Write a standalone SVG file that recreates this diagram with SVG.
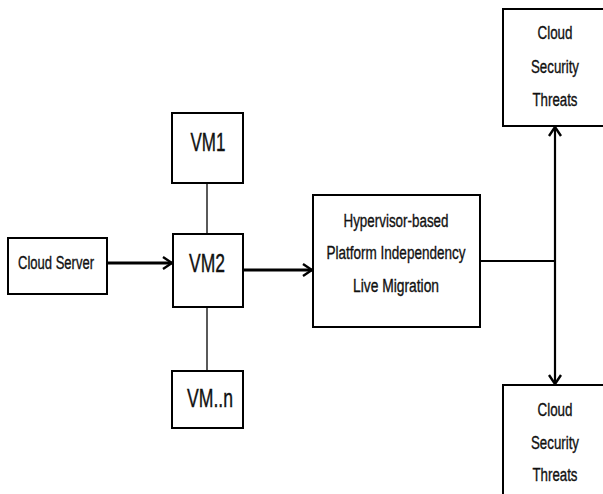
<svg xmlns="http://www.w3.org/2000/svg" width="603" height="494" viewBox="0 0 603 494">
  <style>
    .box { fill: #fff; stroke: #000; stroke-width: 2; }
    .lbl { font-family: "Liberation Sans", Arial, sans-serif; font-size: 18px; fill: #111; stroke: #111; stroke-width: 0.35; text-anchor: middle; }
    .vm { font-size: 26px; stroke-width: 0.4; }
    .thick { stroke: #000; stroke-width: 3; fill: none; }
    .mid { stroke: #000; stroke-width: 2.2; fill: none; }
    .thin { stroke: #000; stroke-width: 1.3; fill: none; }
  </style>
  <defs>
    <marker id="chev" viewBox="0 0 12 14" refX="10" refY="7" markerWidth="12" markerHeight="14" markerUnits="userSpaceOnUse" orient="auto">
      <path d="M1,1 L10,7 L1,13" fill="none" stroke="#000" stroke-width="2.4"/>
    </marker>
  </defs>
  <rect width="603" height="494" fill="#fff"/>

  <g id="connectors">
    <line class="thick" x1="107" y1="263" x2="172" y2="263" marker-end="url(#chev)"/>
    <line class="thick" x1="243" y1="270" x2="312" y2="270" marker-end="url(#chev)"/>
    <line class="thin" x1="207" y1="183" x2="207" y2="234"/>
    <line class="thin" x1="207" y1="307" x2="207" y2="371"/>
    <line class="mid" x1="480" y1="261" x2="555" y2="261"/>
    <line class="mid" x1="555" y1="261" x2="555" y2="127" marker-end="url(#chev)"/>
    <line class="mid" x1="555" y1="261" x2="555" y2="384" marker-end="url(#chev)"/>
  </g>

  <g id="cloud-server">
    <rect class="box" x="8" y="238" width="99" height="56"/>
    <text class="lbl" x="56" y="269" textLength="76" lengthAdjust="spacingAndGlyphs">Cloud Server</text>
  </g>

  <g id="vm1">
    <rect class="box" x="172" y="113" width="71" height="70"/>
    <text class="lbl vm" x="208" y="151" textLength="35" lengthAdjust="spacingAndGlyphs">VM1</text>
  </g>

  <g id="vm2">
    <rect class="box" x="173" y="234" width="70" height="73"/>
    <text class="lbl vm" x="207" y="272" textLength="36" lengthAdjust="spacingAndGlyphs">VM2</text>
  </g>

  <g id="vmn">
    <rect class="box" x="172" y="371" width="71" height="57"/>
    <text class="lbl vm" x="210" y="407" textLength="46" lengthAdjust="spacingAndGlyphs">VM..n</text>
  </g>

  <g id="hypervisor">
    <rect class="box" x="313" y="195" width="167" height="132"/>
    <text class="lbl" x="396" y="227" textLength="105" lengthAdjust="spacingAndGlyphs">Hypervisor-based</text>
    <text class="lbl" x="396" y="259" textLength="139" lengthAdjust="spacingAndGlyphs">Platform Independency</text>
    <text class="lbl" x="396" y="292" textLength="86" lengthAdjust="spacingAndGlyphs">Live Migration</text>
  </g>

  <g id="threats-top">
    <rect class="box" x="503" y="9" width="106" height="117"/>
    <text class="lbl" x="555" y="39" textLength="35" lengthAdjust="spacingAndGlyphs">Cloud</text>
    <text class="lbl" x="555" y="73" textLength="48" lengthAdjust="spacingAndGlyphs">Security</text>
    <text class="lbl" x="555" y="106" textLength="45" lengthAdjust="spacingAndGlyphs">Threats</text>
  </g>

  <g id="threats-bottom">
    <rect class="box" x="503" y="385" width="106" height="120"/>
    <text class="lbl" x="555" y="416" textLength="35" lengthAdjust="spacingAndGlyphs">Cloud</text>
    <text class="lbl" x="555" y="449" textLength="48" lengthAdjust="spacingAndGlyphs">Security</text>
    <text class="lbl" x="555" y="481" textLength="45" lengthAdjust="spacingAndGlyphs">Threats</text>
  </g>
</svg>
